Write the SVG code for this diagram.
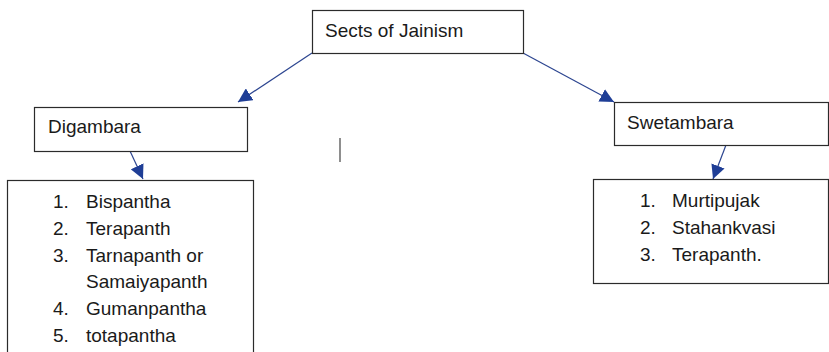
<svg xmlns="http://www.w3.org/2000/svg" width="829" height="352" viewBox="0 0 829 352">
<style>
.box{fill:#fff;stroke:#2b2b2b;stroke-width:1.2}
.t{font-family:"Liberation Sans",Arial,sans-serif;font-size:19px;fill:#1a1a1a}
.c{stroke:#2c4590;stroke-width:1.2;fill:none;marker-end:url(#ah)}
</style>
<defs>
<marker id="ah" markerUnits="userSpaceOnUse" markerWidth="14" markerHeight="14" viewBox="0 0 12 12" refX="12" refY="6" orient="auto">
<path d="M0,0 L12,6 L0,12 Z" fill="#1f3e96"/>
</marker>
</defs>
<rect width="829" height="352" fill="#fff"/>
<g id="connectors">
<line class="c" x1="312" y1="53" x2="238" y2="102"/>
<line class="c" x1="523" y1="53" x2="614" y2="102"/>
<line class="c" x1="130" y1="151" x2="143" y2="179"/>
<line class="c" x1="726" y1="145" x2="713" y2="179"/>
</g>
<g id="root">
<rect class="box" x="312.5" y="10.5" width="211" height="43"/>
<text class="t" x="325" y="37">Sects of Jainism</text>
</g>
<g id="digambara">
<rect class="box" x="34.5" y="107.5" width="213" height="44"/>
<text class="t" x="48" y="133">Digambara</text>
</g>
<g id="swetambara">
<rect class="box" x="614.5" y="102.5" width="214" height="43"/>
<text class="t" x="627" y="129">Swetambara</text>
</g>
<g id="digambara-list">
<rect class="box" x="7.5" y="180.5" width="246" height="190"/>
<text class="t" x="53" y="208">1.</text><text class="t" x="86" y="208">Bispantha</text>
<text class="t" x="53" y="235">2.</text><text class="t" x="86" y="235">Terapanth</text>
<text class="t" x="53" y="262">3.</text><text class="t" x="86" y="262">Tarnapanth or</text>
<text class="t" x="86" y="288">Samaiyapanth</text>
<text class="t" x="53" y="315">4.</text><text class="t" x="86" y="315">Gumanpantha</text>
<text class="t" x="53" y="342">5.</text><text class="t" x="86" y="342">totapantha</text>
</g>
<g id="swetambara-list">
<rect class="box" x="593.5" y="179.5" width="235" height="104"/>
<text class="t" x="640" y="207">1.</text><text class="t" x="672" y="207">Murtipujak</text>
<text class="t" x="640" y="234">2.</text><text class="t" x="672" y="234">Stahankvasi</text>
<text class="t" x="640" y="261">3.</text><text class="t" x="672" y="261">Terapanth.</text>
</g>
<line x1="340" y1="138" x2="340" y2="162" stroke="#444" stroke-width="1.2"/>
</svg>
